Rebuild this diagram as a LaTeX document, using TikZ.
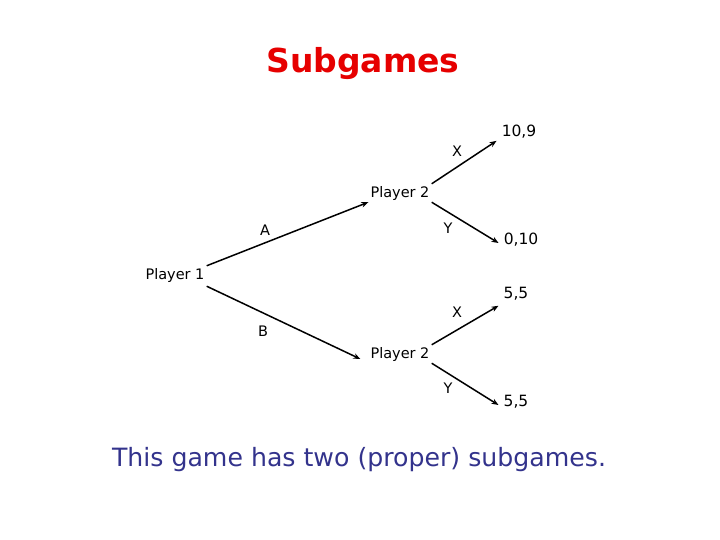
\documentclass[tikz,border=0pt]{standalone}
\usepackage{fontspec}
\setmainfont{DejaVu Sans}
\usetikzlibrary{arrows.meta}
\definecolor{titlered}{RGB}{230,0,0}
\definecolor{noteblue}{RGB}{51,51,140}
\begin{document}
\begin{tikzpicture}[x=1pt,y=-1pt,
  lbl/.style={inner sep=2pt, font=\fontsize{14.5}{16}\selectfont},
  edge/.style={line width=1.5pt, -{Stealth[length=7pt,width=5.5pt]}}]
\useasboundingbox (0,0) rectangle (720,540);
\node[text=titlered, font=\fontsize{33}{38}\bfseries\selectfont] (title) at (363,64) {Subgames};
\node[lbl] (p1) at (175,275) {Player 1};
\node[lbl] (p2a) at (400,193) {Player 2};
\node[lbl] (p2b) at (400,354) {Player 2};
\node[lbl, font=\fontsize{15.5}{17}\selectfont] (o1) at (519,132) {10,9};
\node[lbl, font=\fontsize{15.5}{17}\selectfont] (o2) at (521,240) {0,10};
\node[lbl, font=\fontsize{15.5}{17}\selectfont] (o3) at (516,294) {5,5};
\node[lbl, font=\fontsize{15.5}{17}\selectfont] (o4) at (516,402) {5,5};
\node[lbl] (la) at (265,230) {A};
\node[lbl] (lb) at (263,331) {B};
\node[lbl] (lx1) at (457,151) {X};
\node[lbl] (ly1) at (448,228) {Y};
\node[lbl] (lx2) at (457,312) {X};
\node[lbl] (ly2) at (448,388) {Y};
\draw[edge] (p1.north east) -- (p2a.south west);
\draw[edge] ([yshift=-2pt]p1.south east) -- ([xshift=-8pt,yshift=-5pt]p2b.west);
\draw[edge] (p2a.north east) -- ([xshift=-3pt]o1.south west);
\draw[edge] (p2a.south east) -- ([xshift=-3pt,yshift=-3pt]o2.west);
\draw[edge] (p2b.north east) -- ([xshift=-3pt,yshift=-3pt]o3.south west);
\draw[edge] (p2b.south east) -- ([xshift=-3pt,yshift=-3pt]o4.west);
\node[text=noteblue, font=\fontsize{25.2}{29}\selectfont] (note) at (359,460) {This game has two (proper) subgames.};
\end{tikzpicture}
\end{document}
